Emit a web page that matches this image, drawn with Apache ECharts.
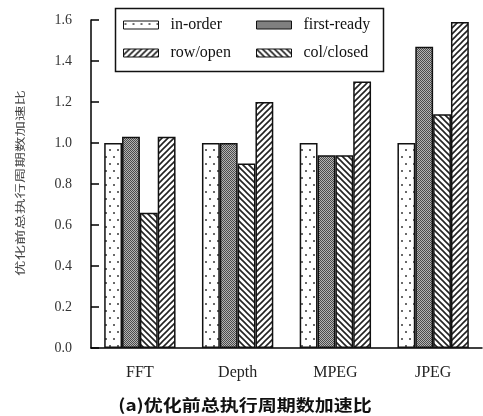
<!DOCTYPE html>
<html>
<head>
<meta charset="utf-8">
<script src="https://cdn.jsdelivr.net/npm/echarts@6/dist/echarts.min.js"></script>
<style>
  html, body { margin: 0; padding: 0; background: #fff; }
  #chart { width: 483px; height: 416px; }
</style>
</head>
<body>
<div id="chart"></div>
<script>
// Benchmarks and speedup ratios per scheduling policy
const categories = ['FFT', 'Depth', 'MPEG', 'JPEG'];
const seriesNames = ['in-order', 'first-ready', 'row/open', 'col/closed'];
const inOrder    = [1.00, 1.00, 1.00, 1.00];
const firstReady = [1.03, 1.00, 0.94, 1.47];
const rowOpen    = [0.66, 0.90, 0.94, 1.14];
const colClosed  = [1.03, 1.20, 1.30, 1.59];
const yMin = 0, yMax = 1.6, yStep = 0.2;
const yTitle = '优化前总执行周期数加速比';
const caption = '(a)优化前总执行周期数加速比';

// Fill patterns (hatching) built on small canvases
function tile(w, h, draw) {
  const c = document.createElement('canvas');
  c.width = w; c.height = h;
  const g = c.getContext('2d');
  g.fillStyle = '#fff';
  g.fillRect(0, 0, w, h);
  draw(g);
  return { image: c, repeat: 'repeat' };
}
const dotsFill = tile(8, 14, g => {
  g.fillStyle = '#6a6a6a';
  g.fillRect(1, 2, 2, 2);
  g.fillRect(5, 9, 2, 2);
});
const checkFill = tile(2, 2, g => {
  g.fillStyle = '#b4b4b4';
  g.fillRect(0, 0, 2, 2);
  g.fillStyle = '#4c4c4c';
  g.fillRect(0, 0, 1, 1);
  g.fillRect(1, 1, 1, 1);
});
function stripes(back) {
  return tile(6, 6, g => {
    g.strokeStyle = '#222';
    g.lineWidth = 1.6;
    g.beginPath();
    if (back) {
      g.moveTo(-1, -1); g.lineTo(7, 7);
      g.moveTo(-1, 5); g.lineTo(1, 7);
      g.moveTo(5, -1); g.lineTo(7, 1);
    } else {
      g.moveTo(-1, 7); g.lineTo(7, -1);
      g.moveTo(-1, 1); g.lineTo(1, -1);
      g.moveTo(5, 7); g.lineTo(7, 5);
    }
    g.stroke();
  });
}
const backFill = stripes(true);
const fwdFill = stripes(false);

const serif = '"Liberation Serif", "Times New Roman", serif';
const cjk = '"Noto Sans CJK SC", sans-serif';

const values = [inOrder, firstReady, rowOpen, colClosed];
const fills = [dotsFill, checkFill, backFill, fwdFill];
const legendFills = [dotsFill, checkFill, fwdFill, backFill];

const series = seriesNames.map((name, i) => ({
  name: name,
  type: 'bar',
  data: values[i],
  barGap: '0%',
  barCategoryGap: '27%',
  itemStyle: { color: fills[i], borderColor: '#111', borderWidth: 1.5 },
  emphasis: { disabled: true }
}));

const legendCommon = {
  orient: 'vertical',
  top: 17,
  padding: 0,
  icon: 'rect',
  itemWidth: 35,
  itemHeight: 8,
  itemGap: 12,
  selectedMode: false,
  textStyle: { fontFamily: serif, fontSize: 16, color: '#111', lineHeight: 16, padding: [0, 0, 0, 7] }
};

const chart = echarts.init(document.getElementById('chart'), null, { renderer: 'canvas' });
chart.setOption({
  animation: false,
  backgroundColor: '#fff',
  grid: { left: 91, right: 1, top: 20, bottom: 68 },
  legend: [
    Object.assign({}, legendCommon, {
      left: 123,
      data: [0, 2].map(i => ({ name: seriesNames[i], itemStyle: { color: legendFills[i], borderColor: '#111', borderWidth: 1 } }))
    }),
    Object.assign({}, legendCommon, {
      left: 256,
      data: [1, 3].map(i => ({ name: seriesNames[i], itemStyle: { color: legendFills[i], borderColor: '#111', borderWidth: 1 } }))
    })
  ],
  xAxis: {
    type: 'category',
    data: categories,
    axisTick: { show: false },
    axisLine: { lineStyle: { color: '#000', width: 1.5 } },
    axisLabel: { color: '#222', fontFamily: serif, fontSize: 16, margin: 17 }
  },
  yAxis: {
    type: 'value',
    min: yMin, max: yMax, interval: yStep,
    splitLine: { show: false },
    axisLine: { show: true, lineStyle: { color: '#000', width: 1.5 } },
    axisTick: { show: true, inside: true, length: 8, lineStyle: { color: '#000', width: 1.5 } },
    axisLabel: { formatter: v => v.toFixed(1), color: '#333', fontFamily: serif, fontSize: 14, margin: 19 }
  },
  series: series,
  graphic: [
    {
      type: 'rect',
      shape: { x: 115.5, y: 8.5, width: 268, height: 63 },
      style: { fill: 'none', stroke: '#111', lineWidth: 1.5 },
      silent: true
    },
    {
      type: 'text',
      x: 20, y: 183,
      rotation: Math.PI / 2,
      scaleY: 0.68,
      style: { text: yTitle, fontFamily: cjk, fontSize: 15.5, fill: '#444', textAlign: 'center', textVerticalAlign: 'middle', align: 'center', verticalAlign: 'middle' },
      silent: true
    },
    {
      type: 'text',
      x: 245, y: 405,
      scaleY: 0.85,
      style: { text: caption, fontFamily: cjk, fontSize: 19, fontWeight: 'bold', fill: '#111', textAlign: 'center', textVerticalAlign: 'middle', align: 'center', verticalAlign: 'middle' },
      silent: true
    }
  ]
});
</script>
</body>
</html>
